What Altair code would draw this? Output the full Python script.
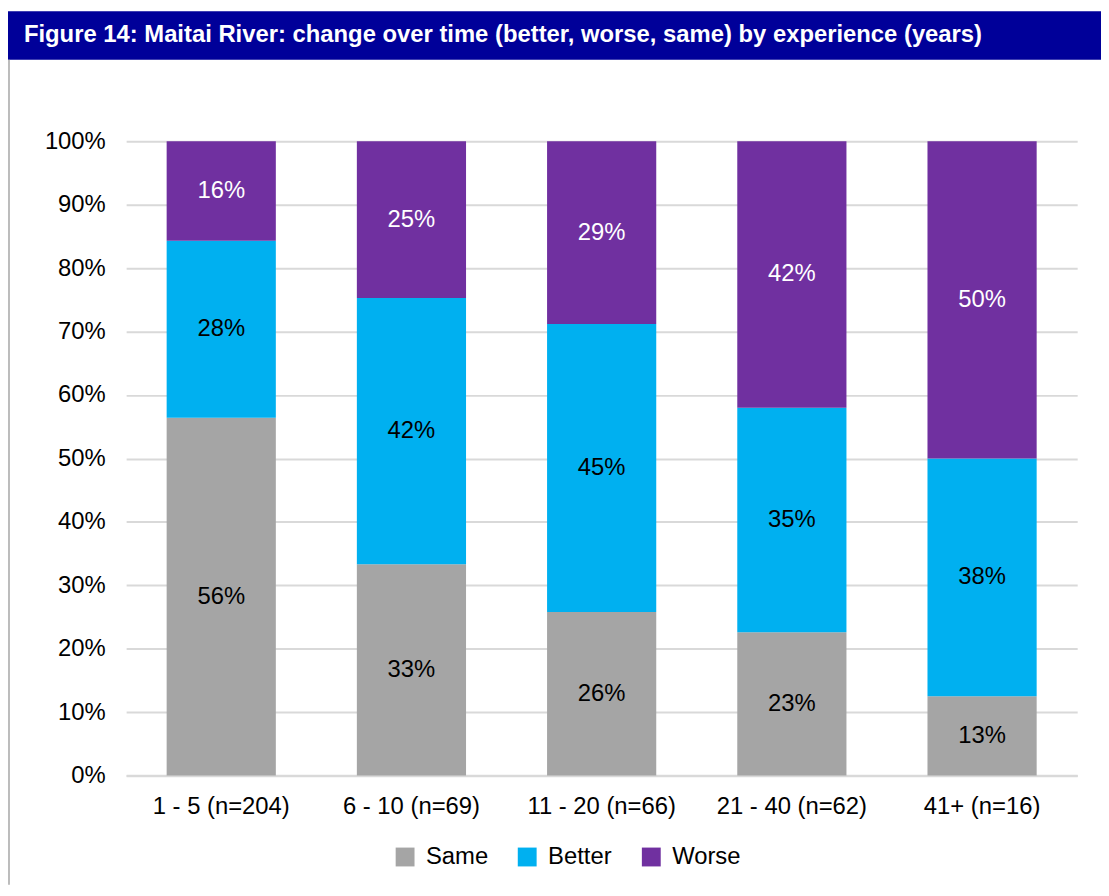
import altair as alt
import pandas as pd

TITLE = "Figure 14: Maitai River: change over time (better, worse, same) by experience (years)"
groups = ["1 - 5 (n=204)", "6 - 10 (n=69)", "11 - 20 (n=66)", "21 - 40 (n=62)", "41+ (n=16)"]
series = ["Same", "Better", "Worse"]
same = [56.4, 33.3, 25.8, 22.6, 12.5]
better = [27.9, 42.0, 45.4, 35.4, 37.5]
worse = [15.7, 24.7, 28.8, 42.0, 50.0]
colors = ["#A5A5A5", "#00B0F0", "#7030A0"]
label_colors = ["#000000", "#000000", "#FFFFFF"]
y_ticks = [0, 10, 20, 30, 40, 50, 60, 70, 80, 90, 100]

rows = []
for i, g in enumerate(groups):
    for k, (s, vals) in enumerate(zip(series, [same, better, worse])):
        rows.append({"group": g, "series": s, "value": vals[i], "order": k,
                     "lc": label_colors[k]})
df = pd.DataFrame(rows)

FONT = "Liberation Sans"
W, H = 958, 639

base = alt.Chart(df).transform_stack(
    stack="value", groupby=["group"], sort=[alt.SortField("order", "ascending")],
    as_=["y0", "y1"]
).transform_calculate(mid="(datum.y0 + datum.y1) / 2",
                      txt="format(datum.value, '.0f') + '%'")

xenc = alt.X("group:N", sort=groups, title=None,
             scale=alt.Scale(paddingInner=0.426, paddingOuter=0.213),
             axis=alt.Axis(labelAngle=0, domain=True, domainColor="#D9D9D9", domainWidth=2.5,
                           ticks=False, tickSize=0, labelPadding=19, labelFontSize=24,
                           labelFont=FONT, labelColor="#000000", grid=False))

bars = base.mark_bar().encode(
    x=xenc,
    y=alt.Y("y0:Q", title=None, scale=alt.Scale(domain=[0, 100], nice=False),
            axis=alt.Axis(values=y_ticks, labelExpr="datum.value + '%'", grid=True,
                          gridColor="#D9D9D9", gridWidth=2, domain=False, ticks=False,
                          tickSize=0, labelPadding=21, labelFontSize=24, labelFont=FONT,
                          labelColor="#000000")),
    y2="y1:Q",
    color=alt.Color("series:N", sort=series, title=None,
                    scale=alt.Scale(domain=series, range=colors),
                    legend=alt.Legend(orient="none", legendX=269, legendY=709,
                                      direction="horizontal", symbolType="square",
                                      symbolSize=361, symbolStrokeWidth=0,
                                      labelFontSize=24, labelFont=FONT, labelColor="#000000",
                                      labelOffset=9, columnPadding=27, symbolOpacity=1)),
)

labels = base.mark_text(fontSize=24, font=FONT, baseline="middle", align="center").encode(
    x=alt.X("group:N", sort=groups),
    y=alt.Y("mid:Q"),
    text="txt:N",
    color=alt.Color("lc:N", scale=None),
)

deco = pd.DataFrame({"t": [TITLE]})
title_bar = alt.Chart(deco).mark_rect(color="#000099").encode(
    x=alt.value(-119), x2=alt.value(982), y=alt.value(-131), y2=alt.value(-82))
title_txt = alt.Chart(deco).mark_text(color="#FFFFFF", fontSize=24, fontWeight="bold",
                                      font=FONT, align="left", baseline="middle").encode(
    x=alt.value(-103), y=alt.value(-107), text="t:N")
border = alt.Chart(deco).mark_rule(color="#A6A6A6", strokeWidth=1.5).encode(
    x=alt.value(-118), y=alt.value(-82), y2=alt.value(749))

chart = alt.layer(bars, labels, title_bar, title_txt, border).properties(
    width=W, height=H, autosize="none",
    padding={"left": 119, "top": 131, "right": 24, "bottom": 110}
).configure_view(stroke=None).configure_axis(zindex=0)

chart.save("out.html", embed_options={"renderer": "svg", "actions": False})
